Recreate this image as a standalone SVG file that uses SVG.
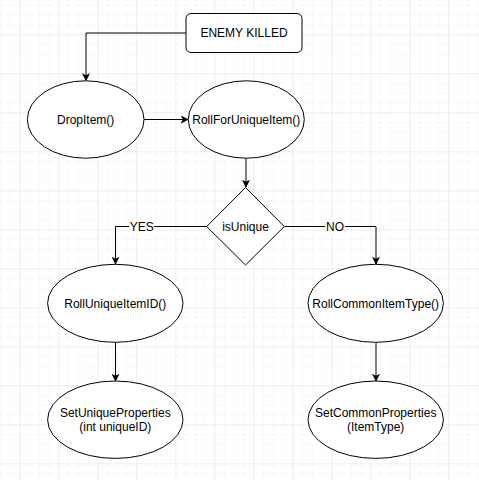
<svg xmlns="http://www.w3.org/2000/svg" width="479" height="480" viewBox="0 0 479 480">
<style>
.node{fill:#fff;stroke:#000;stroke-width:1}
.t{font-family:"Liberation Sans",Arial,sans-serif;font-size:12px;fill:#000;text-anchor:middle;dominant-baseline:central}
.edge{fill:none;stroke:#000;stroke-width:1}
</style>
<defs>
<pattern id="minor" patternUnits="userSpaceOnUse" x="19.3" y="34.3" width="9.75" height="9.75">
<path d="M0,0 H9.75 M0,0 V9.75" stroke="#f3f3f3" stroke-width="1" fill="none"/>
</pattern>
<pattern id="major" patternUnits="userSpaceOnUse" x="19.3" y="34.3" width="39" height="39">
<path d="M0,0 H39 M0,0 V39" stroke="#e6e6e6" stroke-width="1" fill="none"/>
</pattern>
<marker id="arr" viewBox="0 0 10 10" refX="9" refY="5" markerWidth="8" markerHeight="8" markerUnits="userSpaceOnUse" orient="auto">
<path d="M0,0 L10,5 L0,10 L2.5,5 z" fill="#000"/>
</marker>
</defs>
<rect width="479" height="480" fill="#fff"/>
<rect width="479" height="480" fill="url(#minor)"/>
<rect width="479" height="480" fill="url(#major)"/>
<g id="connectors">
<path class="edge" d="M186,33 H86 V80.5" marker-end="url(#arr)"/>
<path class="edge" d="M144,119.5 H188" marker-end="url(#arr)"/>
<path class="edge" d="M246,158 V187" marker-end="url(#arr)"/>
<path class="edge" d="M206.7,226.5 H115.5 V264" marker-end="url(#arr)"/>
<path class="edge" d="M284.3,226.5 H376 V264" marker-end="url(#arr)"/>
<path class="edge" d="M115.5,342.3 V381" marker-end="url(#arr)"/>
<path class="edge" d="M376,342.3 V381" marker-end="url(#arr)"/>
<rect x="129" y="219" width="25" height="14" fill="#fff"/>
<text class="t" x="141.7" y="226.5">YES</text>
<rect x="325" y="219" width="20" height="14" fill="#fff"/>
<text class="t" x="335" y="226.5">NO</text>
</g>
<g id="enemy-killed">
<rect class="node" x="186" y="13.5" width="116" height="39" rx="5"/>
<text class="t" x="244" y="33">ENEMY KILLED</text>
</g>
<g id="drop-item">
<ellipse class="node" cx="85.7" cy="119.5" rx="58.3" ry="38.7"/>
<text class="t" x="85.7" y="119.5">DropItem()</text>
</g>
<g id="roll-for-unique">
<ellipse class="node" cx="246.3" cy="119.5" rx="58" ry="38.7"/>
<text class="t" x="246.3" y="119.5">RollForUniqueItem()</text>
</g>
<g id="is-unique">
<path class="node" d="M245.5,187.5 L284.3,226.5 L245.5,265 L206.7,226.5 Z"/>
<text class="t" x="245.5" y="226.5">isUnique</text>
</g>
<g id="roll-unique-id">
<ellipse class="node" cx="115.3" cy="303.3" rx="67.7" ry="39"/>
<text class="t" x="115.3" y="303.5">RollUniqueItemID()</text>
</g>
<g id="roll-common-type">
<ellipse class="node" cx="375.7" cy="303.3" rx="67.7" ry="39"/>
<text class="t" x="375.7" y="303.5">RollCommonItemType()</text>
</g>
<g id="set-unique">
<ellipse class="node" cx="115.3" cy="419.7" rx="67.7" ry="38.7"/>
<text class="t" x="115.3" y="412.7">SetUniqueProperties</text>
<text class="t" x="115.3" y="426.7">(int uniqueID)</text>
</g>
<g id="set-common">
<ellipse class="node" cx="375.7" cy="419.7" rx="67.7" ry="38.7"/>
<text class="t" x="375.7" y="412.7">SetCommonProperties</text>
<text class="t" x="375.7" y="426.7">(ItemType)</text>
</g>
</svg>
